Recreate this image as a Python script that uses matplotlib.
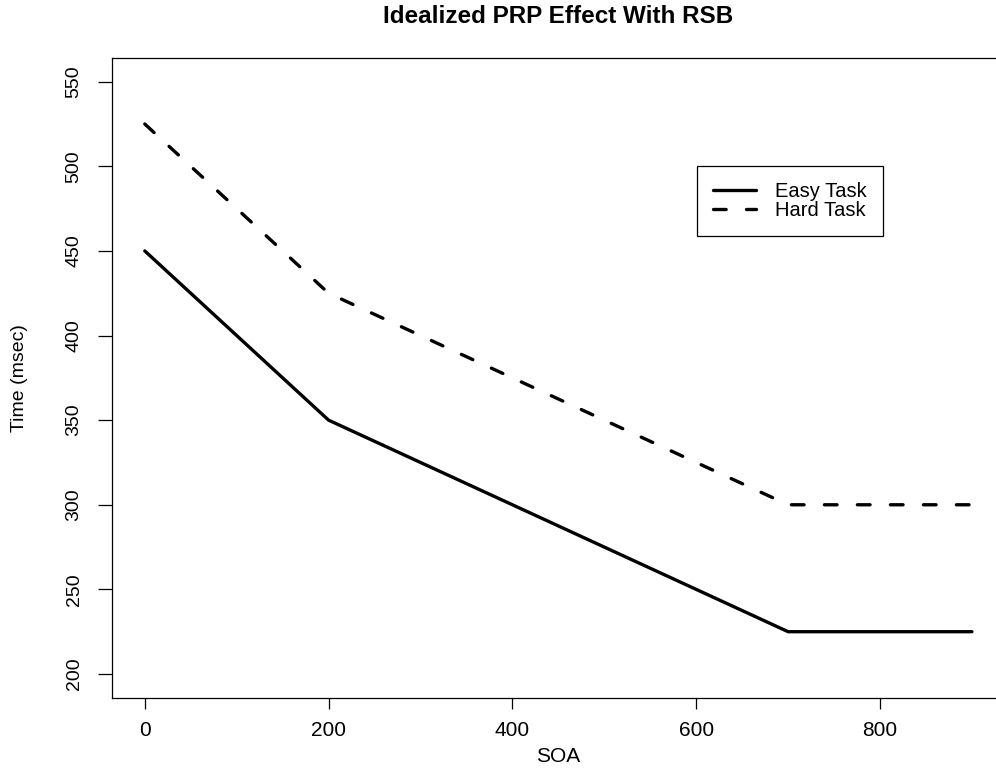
import matplotlib.pyplot as plt

# data
soa = [0, 200, 700, 900]
easy = [450, 350, 225, 225]
hard = [525, 425, 300, 300]
x_ticks = [0, 200, 400, 600, 800]
y_ticks = [200, 250, 300, 350, 400, 450, 500, 550]

plt.rcParams['font.family'] = ['Liberation Sans', 'DejaVu Sans']

W, H = 996, 783
fig = plt.figure(figsize=(W / 100, H / 100), dpi=100)

# axes box runs past the right edge like the reference crop
left, right, top, bottom = 111.7, 1005.0, 58.0, 697.7
ax = fig.add_axes([left / W, 1 - bottom / H, (right - left) / W, (bottom - top) / H])

lw = 2.4
ax.plot(soa, easy, color='black', lw=lw, solid_capstyle='round', label='Easy Task')
ax.plot(soa, hard, color='black', lw=lw, linestyle=(0, (3.8, 6.1)),
        dash_capstyle='round', label='Hard Task')

ax.set_xlim(-36, 936)
ax.set_ylim(186, 564)
ax.set_xticks(x_ticks)
ax.set_yticks(y_ticks)
ax.tick_params(axis='x', length=8, width=0.9, pad=9, labelsize=15)
ax.tick_params(axis='y', length=10, width=0.9, pad=11, labelsize=14)
for lab in ax.get_yticklabels():
    lab.set_rotation(90)
    lab.set_va('center')
for s in ax.spines.values():
    s.set_linewidth(0.9)

leg = ax.legend(loc='upper left', bbox_to_anchor=(0.655, 0.831), fontsize=14.5,
                frameon=True, fancybox=False, edgecolor='black', framealpha=1,
                handlelength=2.15, handletextpad=0.95, borderpad=0.8,
                labelspacing=0.0, borderaxespad=0)
leg.get_frame().set_linewidth(0.9)

fig.text(558 / W, 1 - 16.8 / H, 'Idealized PRP Effect With RSB', ha='center',
         va='center', fontsize=17.5, fontweight='bold')
fig.text(558 / W, 1 - 757 / H, 'SOA', ha='center', va='center', fontsize=15)
fig.text(19 / W, 1 - 378 / H, 'Time (msec)', ha='center', va='center',
         rotation=90, fontsize=14)

plt.savefig('out.png', dpi=100)
